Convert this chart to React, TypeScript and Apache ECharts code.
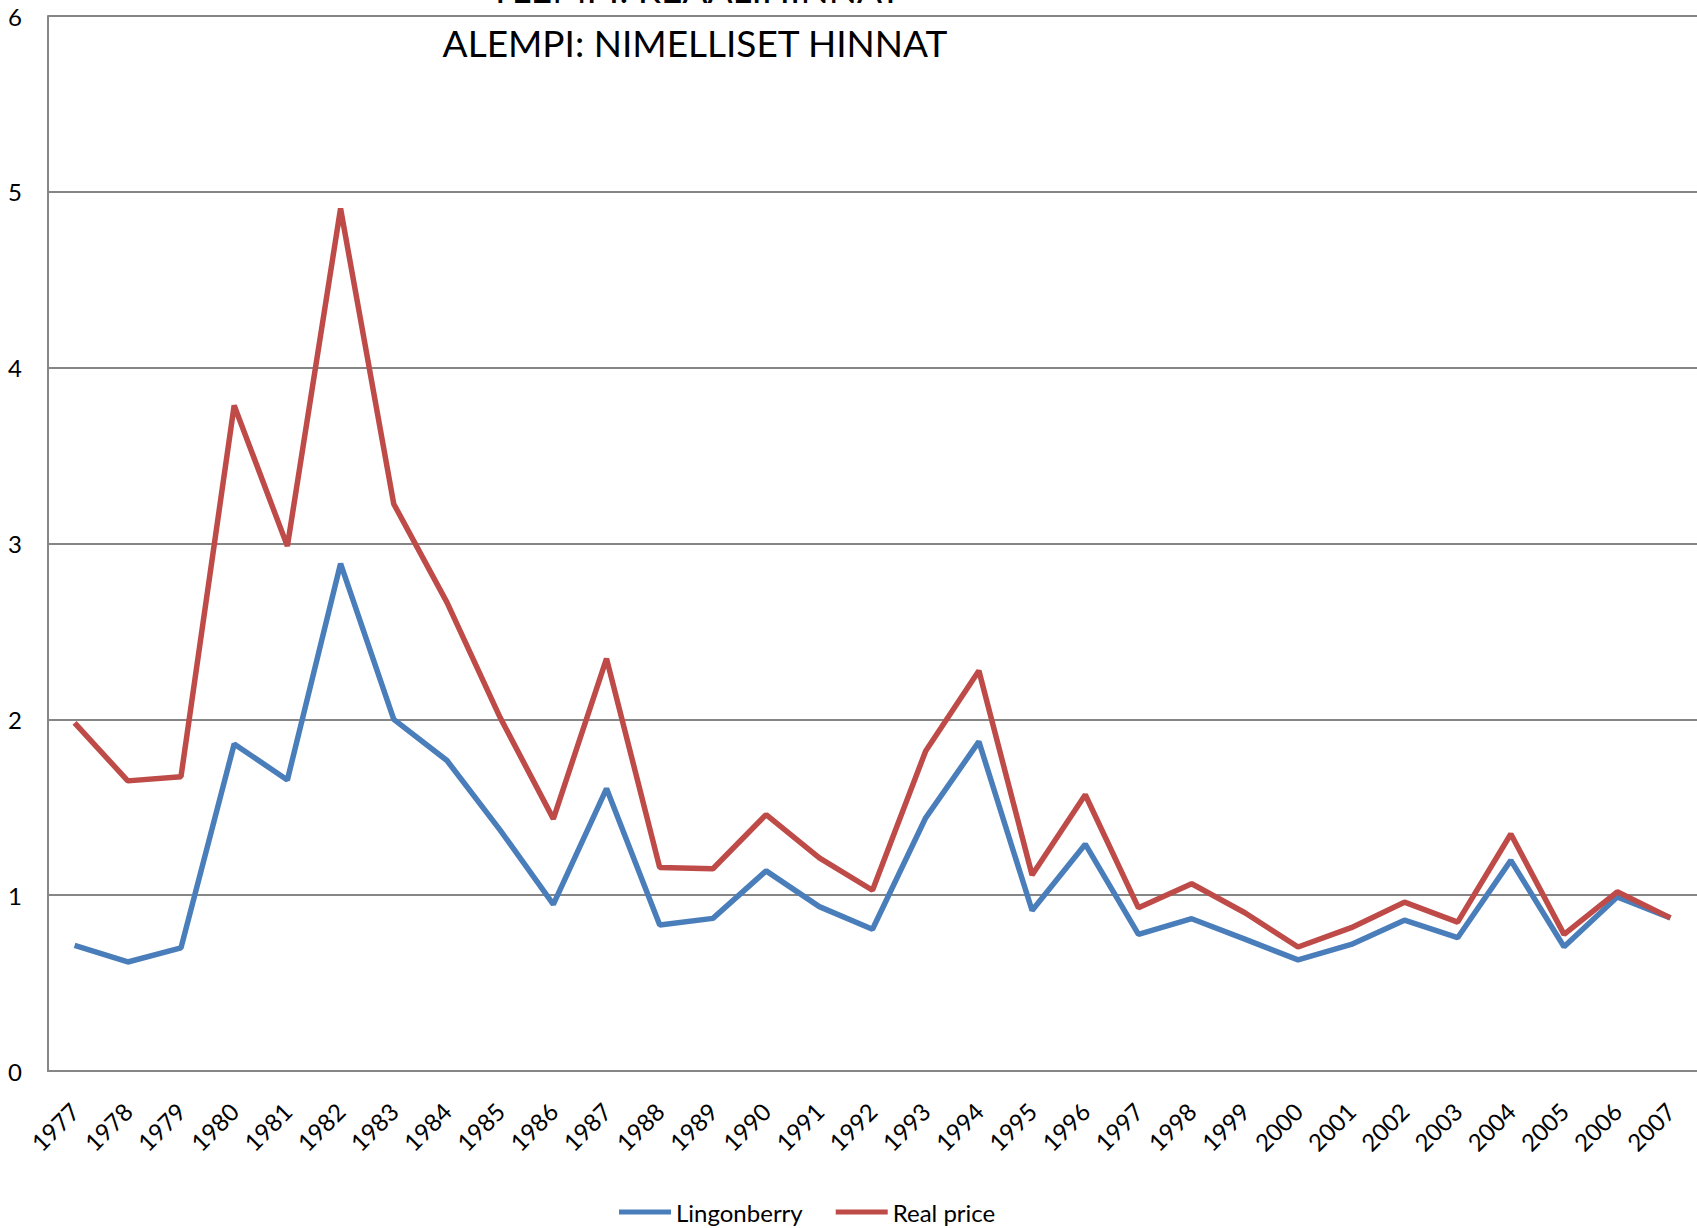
import React, { useEffect, useRef } from "react";
import * as echarts from "echarts";

const years = [
  "1977", "1978", "1979", "1980", "1981", "1982", "1983", "1984", "1985", "1986",
  "1987", "1988", "1989", "1990", "1991", "1992", "1993", "1994", "1995", "1996",
  "1997", "1998", "1999", "2000", "2001", "2002", "2003", "2004", "2005", "2006", "2007",
];

const lingonberry = [
  0.714, 0.62, 0.7, 1.86, 1.655, 2.886, 2.0, 1.766, 1.37, 0.948,
  1.606, 0.83, 0.868, 1.138, 0.935, 0.806, 1.44, 1.873, 0.913, 1.29,
  0.777, 0.866, 0.75, 0.632, 0.72, 0.858, 0.758, 1.198, 0.707, 0.99, 0.871,
];

const realPrice = [
  1.98, 1.65, 1.674, 3.785, 2.985, 4.905, 3.225, 2.665, 2.01, 1.434,
  2.345, 1.157, 1.15, 1.458, 1.212, 1.028, 1.82, 2.276, 1.115, 1.571,
  0.928, 1.065, 0.9, 0.705, 0.815, 0.96, 0.847, 1.348, 0.777, 1.019, 0.871,
];

const titleLines = ["YLEMPI: REAALIHINNAT", "ALEMPI: NIMELLISET HINNAT"];
const seriesNames = ["Lingonberry", "Real price"];

const FONT = "Lato, 'Open Sans', sans-serif";

export default function App() {
  const ref = useRef<HTMLDivElement>(null);

  useEffect(() => {
    if (!ref.current) return;
    const chart = echarts.init(ref.current, null, { renderer: "svg" });
    chart.setOption({
      animation: false,
      backgroundColor: "#ffffff",
      title: {
        text: titleLines.join("\n"),
        left: 690,
        textAlign: "center",
        top: -44,
        textStyle: {
          fontFamily: FONT,
          fontSize: 37,
          fontWeight: "normal",
          color: "#000000",
          lineHeight: 54,
        },
      },
      legend: {
        data: seriesNames,
        left: 614,
        top: 1195,
        icon: "rect",
        itemWidth: 52,
        itemHeight: 5,
        itemGap: 33,
        textStyle: { fontFamily: FONT, fontSize: 24, color: "#000000" },
      },
      grid: { left: 48, right: 0, top: 16, bottom: 157, containLabel: false },
      xAxis: {
        type: "category",
        data: years,
        boundaryGap: true,
        axisLine: { lineStyle: { color: "#868686", width: 2 } },
        axisTick: { show: false },
        axisLabel: {
          rotate: 45,
          margin: 36,
          fontFamily: FONT,
          fontSize: 24,
          color: "#000000",
          interval: 0,
        },
      },
      yAxis: {
        type: "value",
        min: 0,
        max: 6,
        interval: 1,
        axisLine: { show: true, lineStyle: { color: "#868686", width: 2 } },
        axisTick: { show: false },
        axisLabel: { margin: 26, fontFamily: FONT, fontSize: 24, color: "#000000" },
        splitLine: { lineStyle: { color: "#868686", width: 2 } },
      },
      series: [
        {
          name: seriesNames[0],
          type: "line",
          data: lingonberry,
          showSymbol: false,
          symbol: "none",
          lineStyle: { color: "#4A7EBB", width: 5.5 },
          itemStyle: { color: "#4A7EBB" },
        },
        {
          name: seriesNames[1],
          type: "line",
          data: realPrice,
          showSymbol: false,
          symbol: "none",
          lineStyle: { color: "#BE4B48", width: 5.5 },
          itemStyle: { color: "#BE4B48" },
        },
      ],
    });
    return () => chart.dispose();
  }, []);

  return (
    <div
      ref={ref}
      style={{ position: "fixed", left: 0, top: 0, width: 1697, height: 1228 }}
    />
  );
}
